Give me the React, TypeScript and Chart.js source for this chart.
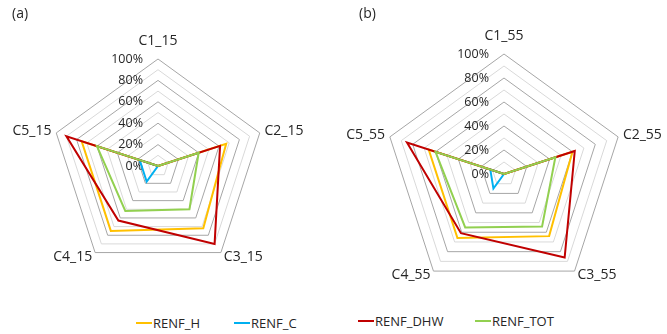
import React, { useEffect, useRef } from "react";
import { Chart, registerables } from "chart.js";

Chart.register(...registerables);

const CATEGORIES_A = ["C1_15", "C2_15", "C3_15", "C4_15", "C5_15"];
const CATEGORIES_B = ["C1_55", "C2_55", "C3_55", "C4_55", "C5_55"];

const SERIES_NAMES = ["RENF_H", "RENF_C", "RENF_DHW", "RENF_TOT"];
const SERIES_COLORS = ["#FFC000", "#00B0F0", "#C00000", "#92D050"];

const A_RENF_H = [0, 67, 72, 75, 75];
const A_RENF_C = [0, 0, 0, 18, 18];
const A_RENF_DHW = [0, 61, 90, 63, 90];
const A_RENF_TOT = [0, 40, 50, 52, 60];

const B_RENF_H = [0, 60, 64, 66, 66];
const B_RENF_C = [0, 0, 0, 15, 12];
const B_RENF_DHW = [0, 62, 86, 61, 85];
const B_RENF_TOT = [0, 45, 54, 55, 60];

const TICK_VALUES = [0, 20, 40, 60, 80, 100];
const TICK_LABELS = ["0%", "20%", "40%", "60%", "80%", "100%"];

const FONT = '"Open Sans", "DejaVu Sans", sans-serif';

const labelPlugin = {
  id: "radarLabels",
  beforeDatasetsDraw(chart: any, _args: any, opts: any) {
    const r = chart.scales.r;
    const ctx = chart.ctx;
    ctx.save();
    ctx.fillStyle = "#262626";
    ctx.font = `12.5px ${FONT}`;
    ctx.textAlign = "right";
    ctx.textBaseline = "middle";
    TICK_VALUES.forEach((v, i) => {
      const d = r.getDistanceFromCenterForValue(v);
      ctx.fillText(TICK_LABELS[i], r.xCenter - opts.tickOffset, r.yCenter - d);
    });
    ctx.font = `14px ${FONT}`;
    const labels: string[] = chart.data.labels;
    labels.forEach((lab, i) => {
      const p = r.getPointPosition(i, r.drawingArea + opts.pad);
      if (i === 0) {
        ctx.textAlign = "center";
        ctx.textBaseline = "bottom";
        ctx.fillText(lab, p.x, p.y - opts.topExtra);
      } else {
        ctx.textBaseline = "middle";
        ctx.textAlign = p.x > r.xCenter ? "left" : "right";
        ctx.fillText(lab, p.x, p.y);
      }
    });
    ctx.restore();
  },
};

function makeConfig(labels: string[], series: number[][], padding: any) {
  return {
    type: "radar" as const,
    data: {
      labels,
      datasets: series.map((d, i) => ({
        label: SERIES_NAMES[i],
        data: d,
        borderColor: SERIES_COLORS[i],
        backgroundColor: SERIES_COLORS[i],
        borderWidth: 2,
        pointRadius: 0,
        fill: false,
        tension: 0,
        order: 4 - i,
      })),
    },
    options: {
      animation: false as const,
      responsive: false,
      layout: { padding },
      plugins: {
        legend: { display: false },
        tooltip: { enabled: false },
        radarLabels: { tickOffset: 15, pad: 5, topExtra: 6 },
      },
      scales: {
        r: {
          min: 0,
          max: 100,
          ticks: { stepSize: 10, display: false },
          angleLines: { display: false },
          pointLabels: { display: false },
          grid: {
            lineWidth: 1,
            color: (c: any) =>
              c.tick && c.tick.value % 20 === 0 ? "#a6a6a6" : "#d9d9d9",
          },
        },
      },
    },
    plugins: [labelPlugin],
  };
}

function RadarCanvas(props: {
  labels: string[];
  series: number[][];
  padding: any;
  width: number;
  height: number;
}) {
  const ref = useRef<HTMLCanvasElement>(null);
  useEffect(() => {
    if (!ref.current) return;
    const chart = new Chart(
      ref.current,
      makeConfig(props.labels, props.series, props.padding) as any
    );
    return () => chart.destroy();
  }, []);
  return (
    <canvas
      ref={ref}
      width={props.width}
      height={props.height}
      style={{ display: "block", width: props.width, height: props.height }}
    />
  );
}

const legendPos = [
  { x: 136, y: 323 },
  { x: 234, y: 323 },
  { x: 358, y: 321 },
  { x: 475, y: 321 },
];

export default function App() {
  return (
    <div
      style={{
        position: "absolute",
        left: 0,
        top: 0,
        width: 667,
        height: 334,
        background: "#fff",
        fontFamily: FONT,
        color: "#262626",
        overflow: "hidden",
      }}
    >
      <div style={{ position: "absolute", left: 0, top: 0 }}>
        <RadarCanvas
          labels={CATEGORIES_A}
          series={[A_RENF_H, A_RENF_C, A_RENF_DHW, A_RENF_TOT]}
          padding={{ left: 51, top: 59, right: 68, bottom: 27 }}
          width={333}
          height={300}
        />
      </div>
      <div style={{ position: "absolute", left: 333, top: 0 }}>
        <RadarCanvas
          labels={CATEGORIES_B}
          series={[B_RENF_H, B_RENF_C, B_RENF_DHW, B_RENF_TOT]}
          padding={{ left: 51, top: 54, right: 43, bottom: 6 }}
          width={334}
          height={300}
        />
      </div>
      <div style={{ position: "absolute", left: 12, top: 3, fontSize: 14, lineHeight: "20px" }}>(a)</div>
      <div style={{ position: "absolute", left: 359, top: 3, fontSize: 14, lineHeight: "20px" }}>(b)</div>
      {SERIES_NAMES.map((n, i) => (
        <div
          key={n}
          style={{
            position: "absolute",
            left: legendPos[i].x,
            top: legendPos[i].y - 10,
            height: 20,
            display: "flex",
            alignItems: "center",
            fontSize: 13,
            whiteSpace: "nowrap",
          }}
        >
          <span
            style={{
              display: "inline-block",
              width: 16,
              height: 2,
              background: SERIES_COLORS[i],
              marginRight: 1,
            }}
          />
          <span>{n}</span>
        </div>
      ))}
    </div>
  );
}
